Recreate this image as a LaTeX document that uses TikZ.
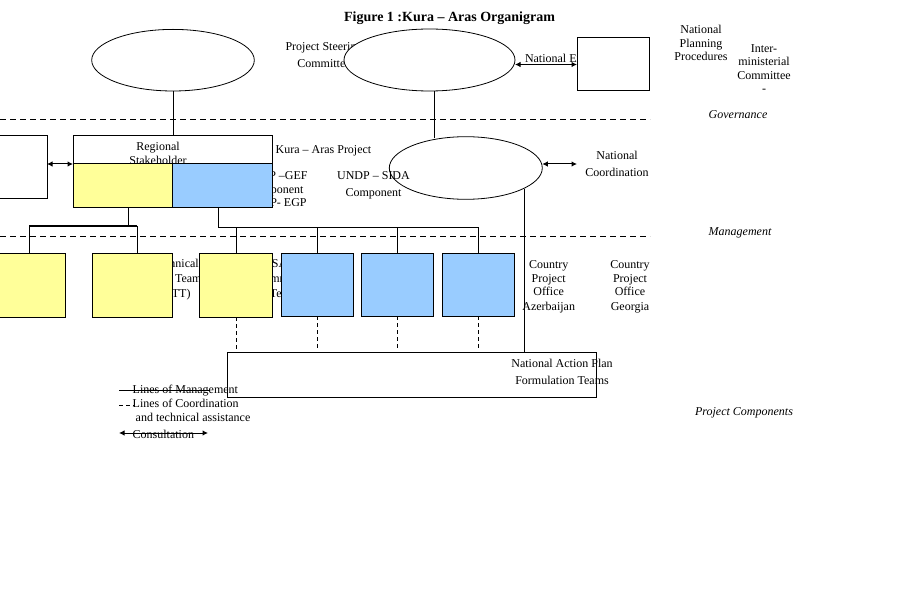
\documentclass[tikz,border=0pt]{standalone}
\usepackage{fontspec}
\setmainfont{Liberation Serif}
\usetikzlibrary{shapes.geometric,arrows.meta}
\definecolor{wyellow}{HTML}{FFFF99}
\definecolor{wblue}{HTML}{99CCFF}
\newcommand{\mlines}[1]{\begin{tabular}[t]{@{}c@{}}#1\end{tabular}}
\begin{document}
\begin{tikzpicture}[x=1pt,y=-1pt,line width=1pt,
  txt/.style={inner sep=0pt,outer sep=0pt,anchor=base,font=\fontsize{12}{14}\selectfont},
  txtw/.style={txt,anchor=base west},
  sp/.style={font=\fontsize{12}{#1}\selectfont},
  box/.style={draw,line width=1pt,inner sep=0pt,outer sep=0pt},
  ell/.style={draw,ellipse,inner sep=0pt,outer sep=0pt,line width=0.8pt},
  sepline/.style={dash pattern=on 6pt off 4pt,line width=0.8pt},
  dl/.style={dash pattern=on 4pt off 3pt,line width=1pt},
  arr/.style={{Latex[length=5.5pt,width=5.5pt]}-{Latex[length=5.5pt,width=5.5pt]},line width=1pt}]
\useasboundingbox (0,0) rectangle (918,604);

% ---- texts that are partly hidden by shapes ----
\node[txt,sp=17] (pst) at (324,51) {\mlines{Project Steering\\Committee}};
\node[txtw] (nex) at (525,63) {National Execution};
\node[txt,sp=15] (tech) at (175.5,267) {\mlines{Technical\\Task Team\\(TTT)}};
\node[txt,sp=15] (sap) at (283,267) {\mlines{SAP\\Committee\\Team}};
\begin{scope}
\clip (230,160) rectangle (330,206);
\node[txt,sp=13.5] (gef) at (275.5,180) {\mlines{UNDP –GEF\\Component\\UNDP- EGP}};
\end{scope}

% ---- governance level ----
\node[ell,fill=white,minimum width=162.6pt,minimum height=61.6pt] (E1) at (173,60.2) {};
\node[ell,fill=white,minimum width=171pt,minimum height=62pt] (E2) at (429.5,60) {};
\node[box,fill=white,minimum width=72pt,minimum height=53pt] (NE) at (613,64.5) {};

% ---- management level ----
\node[box,fill=white,minimum width=49pt,minimum height=63pt] (LB) at (22.5,167.5) {};
\node[box,fill=white,minimum width=199pt,minimum height=72pt] (RB) at (172.5,172) {};
\node[txt,sp=14] (reg) at (158,151) {\mlines{Regional\\Stakeholder}};
\node[box,fill=wyellow,minimum width=99pt,minimum height=44pt] (RY) at (122.5,186) {};
\node[box,fill=wblue,minimum width=100pt,minimum height=44pt] (RBl) at (222,186) {};
\node[ell,minimum width=153pt,minimum height=62.6pt] (E3) at (465.8,168) {};

% ---- component level ----
\node[box,fill=wyellow,minimum width=67pt,minimum height=64pt] (B1) at (31.5,285) {};
\node[box,fill=wyellow,minimum width=80pt,minimum height=64pt] (B2) at (132,285) {};
\node[box,fill=wyellow,minimum width=73pt,minimum height=64pt] (B3) at (235.5,285) {};
\node[box,fill=wblue,minimum width=72pt,minimum height=63pt] (B4) at (317,284.5) {};
\node[box,fill=wblue,minimum width=72pt,minimum height=63pt] (B5) at (397,284.5) {};
\node[box,fill=wblue,minimum width=72pt,minimum height=63pt] (B6) at (478,284.5) {};
\node[box,minimum width=369pt,minimum height=45pt] (NAP) at (411.5,374.5) {};

% ---- separators ----
\coordinate (s1a) at (0,119); \coordinate (s1b) at (650,119);
\coordinate (s2a) at (0,236); \coordinate (s2b) at (650,236);
\draw[sepline] (s1a) -- (s1b);
\draw[sepline] (s2a) -- (s2b);

% ---- lines of management ----
\draw (E1.south) -- (E1.south |- RB.north);
\coordinate (e3top) at (434,138);
\draw (e3top |- E2.south) -- (e3top);
\coordinate (ycon) at (128,226);
\coordinate (yl) at (29,226);
\coordinate (yr) at (137,226);
\draw (RY.south -| ycon) -- (ycon);
\draw (yl) -- (yr);
\draw (yl) -- (yl |- B1.north);
\draw (yr) -- (yr |- B2.north);
\coordinate (bl) at (218,227);
\coordinate (b3) at (236,227);
\coordinate (br) at (478,227);
\draw (RBl.south -| bl) -- (bl) -- (br) -- (br |- B6.north);
\draw (b3) -- (b3 |- B3.north);
\draw (B4.north |- bl) -- (B4.north);
\draw (B5.north |- bl) -- (B5.north);
\coordinate (v1) at (524,189);
\draw (v1) -- (v1 |- NAP.north);

% ---- lines of coordination ----
\draw[dl,shorten >=3pt] (b3 |- B3.south) -- (b3 |- NAP.north);
\draw[dl,shorten >=3pt] (B4.south) -- (B4.south |- NAP.north);
\draw[dl,shorten >=3pt] (B5.south) -- (B5.south |- NAP.north);
\draw[dl,shorten >=3pt] (B6.south) -- (B6.south |- NAP.north);

% ---- consultation ----
\draw[arr] (E2.east |- NE.west) -- (NE.west);
\draw[arr] (LB.east |- RY.north) -- (RY.north west);
\coordinate (ncend) at (577,164);
\draw[arr] (E3.east |- ncend) -- (ncend);

% ---- visible texts ----
\node[txt,font=\fontsize{14}{16}\selectfont\bfseries] (title) at (449.5,22) {Figure 1 :Kura – Aras Organigram};
\node[txt,sp=13.5] (npp) at (701,34) {\mlines{National\\Planning\\Procedures}};
\node[txt,sp=13.5] (imc) at (764,52.5) {\mlines{Inter-\\ministerial\\Committee\\-}};
\node[txt,font=\fontsize{12}{14}\selectfont\itshape] (gov) at (738,119) {Governance};
\node[txt] (kap) at (323.5,154) {Kura – Aras Project};
\node[txt,sp=17] (sida) at (373.5,180) {\mlines{UNDP – SIDA\\Component}};
\node[txt,sp=17] (nco) at (617,160) {\mlines{National\\Coordination}};
\node[txt,font=\fontsize{12}{14}\selectfont\itshape] (mgmt) at (740,235) {Management};
\node[txt,sp=14] (cpa) at (548.7,268) {\mlines{Country\\Project\\Office\\Azerbaijan}};
\node[txt,sp=14] (cpg) at (630,268) {\mlines{Country\\Project\\Office\\Georgia}};
\node[txt,sp=17] (nap) at (562,367) {\mlines{National Action Plan\\Formulation Teams}};
\node[txt,font=\fontsize{12}{14}\selectfont\itshape] (pc) at (744,415.5) {Project Components};

% ---- legend ----
\coordinate (l1a) at (119,390); \coordinate (l1b) at (210,390);
\draw (l1a) -- (l1b);
\coordinate (l2a) at (119,405); \coordinate (l2b) at (134,405);
\draw[dl] (l2a) -- (l2b);
\coordinate (l3a) at (119,433); \coordinate (l3b) at (208,433);
\draw[arr] (l3a) -- (l3b);
\node[txtw] (leg1) at (132.7,393) {Lines of Management};
\node[txtw] (leg2) at (132.7,407) {Lines of Coordination};
\node[txtw] (leg3) at (135.7,421) {and technical assistance};
\node[txtw] (leg4) at (132.7,438) {Consultation};
\end{tikzpicture}
\end{document}
